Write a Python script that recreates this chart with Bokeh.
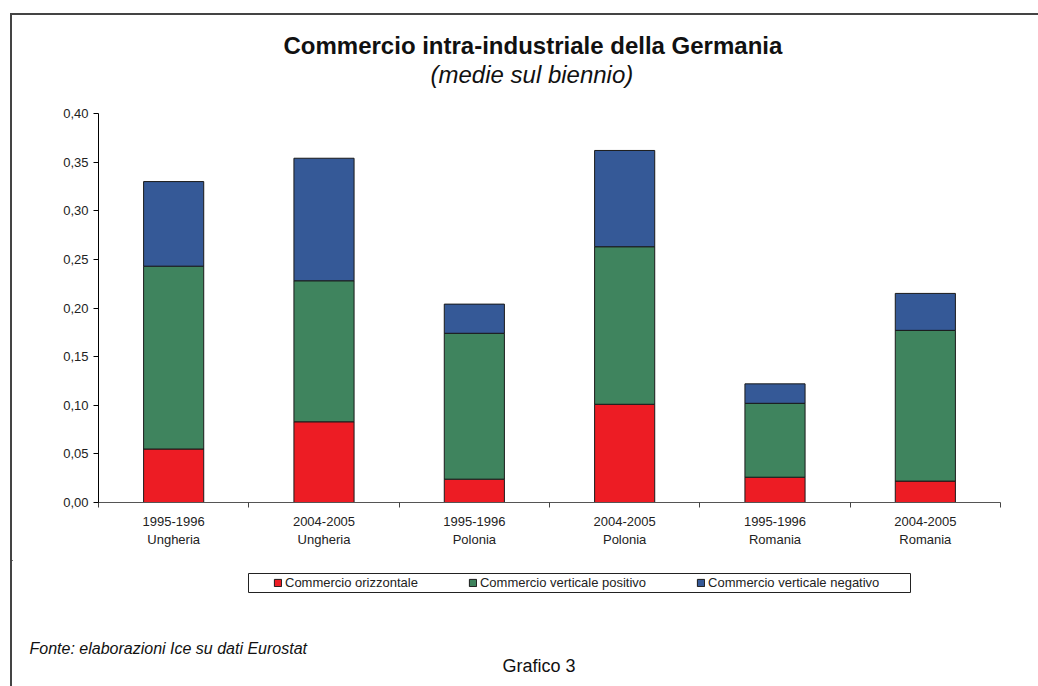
from bokeh.plotting import figure
from bokeh.layouts import column
from bokeh.models import Range1d, FixedTicker, CustomJSTickFormatter, Legend
from bokeh.core.properties import value
from bokeh.embed import file_html
from bokeh.resources import INLINE

# ---- data ----
periodi = ["1995-1996", "2004-2005", "1995-1996", "2004-2005", "1995-1996", "2004-2005"]
paesi = ["Ungheria", "Ungheria", "Polonia", "Polonia", "Romania", "Romania"]
orizzontale = [0.055, 0.083, 0.024, 0.101, 0.026, 0.022]
verticale_positivo = [0.188, 0.145, 0.150, 0.162, 0.076, 0.155]
verticale_negativo = [0.087, 0.126, 0.030, 0.099, 0.020, 0.038]
serie = ["Commercio orizzontale", "Commercio verticale positivo", "Commercio verticale negativo"]
colori = ["#ED1C24", "#3F845E", "#355997"]
y_ticks = [0.0, 0.05, 0.10, 0.15, 0.20, 0.25, 0.30, 0.35, 0.40]
titolo = "Commercio intra-industriale della Germania"
sottotitolo = "(medie sul biennio)"
fonte = "Fonte: elaborazioni Ice su dati Eurostat"
grafico = "Grafico 3"

FONT = "Liberation Sans"
W = 1026
TOP_H, MAIN_H, BOT_H = 75, 470, 126


def blank(h):
    f = figure(width=W, height=h, output_backend="svg", toolbar_location=None,
               x_range=Range1d(0, W), y_range=Range1d(h, 0),
               x_axis_location=None, y_axis_location=None,
               min_border=0, min_border_left=0, min_border_right=0,
               min_border_top=0, min_border_bottom=0)
    f.frame_align = False
    f.title.visible = False
    f.outline_line_color = None
    f.xgrid.visible = False
    f.ygrid.visible = False
    return f


# ---- header ----
p_top = blank(TOP_H)
p_top.text(x=[271], y=[30], text=[titolo], text_font=value(FONT), text_font_size="24px",
           text_font_style="bold", text_color="#111", text_align="left",
           text_baseline="alphabetic")
p_top.text(x=[418], y=[59], text=[sottotitolo], text_font=value(FONT), text_font_size="24px",
           text_font_style="italic", text_color="#111", text_align="left",
           text_baseline="alphabetic")

# ---- main chart ----
n = len(periodi)
xs = [i + 0.5 for i in range(n)]
data = dict(x=xs, o=orizzontale, p=verticale_positivo, n=verticale_negativo)

p = figure(width=W, height=MAIN_H, output_backend="svg", toolbar_location=None,
           x_range=Range1d(0, n), y_range=Range1d(0, 0.40),
           min_border_left=86, min_border_right=38,
           min_border_top=23, min_border_bottom=58)
p.frame_align = False
p.title.visible = False
p.outline_line_color = None
p.xgrid.visible = False
p.ygrid.visible = False

rs = p.vbar_stack(["o", "p", "n"], x="x", width=0.4, source=data,
                  fill_color=colori, line_color="#1a1a1a", line_width=1)

ya = p.yaxis[0]
ya.ticker = FixedTicker(ticks=y_ticks)
ya.formatter = CustomJSTickFormatter(code="return tick.toFixed(2).replace('.', ',');")
ya.major_tick_in = 0
ya.major_tick_out = 5
ya.minor_tick_out = 0
ya.minor_tick_in = 0
ya.axis_line_color = "black"
ya.major_tick_line_color = "black"
ya.major_label_text_font = FONT
ya.major_label_text_font_size = "13px"
ya.major_label_text_color = "#222"
ya.major_label_standoff = 5

xa = p.xaxis[0]
xa.ticker = FixedTicker(ticks=xs, minor_ticks=list(range(n + 1)))
xa.major_label_overrides = {x: f"{a}\n{b}" for x, a, b in zip(xs, periodi, paesi)}
xa.major_tick_in = 0
xa.major_tick_out = 0
xa.minor_tick_in = 0
xa.minor_tick_out = 5
xa.minor_tick_line_color = "#444"
xa.axis_line_color = "#555"
xa.major_label_text_font = FONT
xa.major_label_text_font_size = "13px"
xa.major_label_text_color = "#222"
xa.major_label_standoff = 6

# ---- footer: legend + notes ----
p_bot = blank(BOT_H)
p_bot.quad(left=[236], right=[898], top=[13], bottom=[32],
           fill_color="white", line_color="#222", line_width=1)
# legend swatches: renderers whose only bar lies far outside the visible ranges
swatches = [p_bot.vbar(x=[-5000], bottom=[-5000], top=[-4999], width=1, fill_color=c,
                       line_color="#1a1a1a") for c in colori]
legend = Legend(items=[(s, [r]) for s, r in zip(serie, swatches)],
                orientation="horizontal", location=(261, 96),
                padding=0, margin=0, spacing=50, label_standoff=3,
                glyph_width=9, glyph_height=9, label_height=14,
                label_text_font=FONT, label_text_font_size="13px",
                label_text_color="#222",
                border_line_color=None, background_fill_alpha=0)
p_bot.add_layout(legend, "center")
p_bot.text(x=[17], y=[88], text=[fonte], text_font=value(FONT), text_font_size="16px",
           text_font_style="italic", text_color="#111", text_align="left",
           text_baseline="alphabetic")
p_bot.text(x=[490], y=[105.5], text=[grafico], text_font=value(FONT), text_font_size="18px",
           text_color="#111", text_align="left", text_baseline="alphabetic")

page = column(p_top, p, p_bot, spacing=0, margin=(13, 0, 0, 10),
              styles={"border-left": "2px solid #444", "border-top": "2px solid #444"})

open("out.html", "w").write(file_html(page, INLINE))
